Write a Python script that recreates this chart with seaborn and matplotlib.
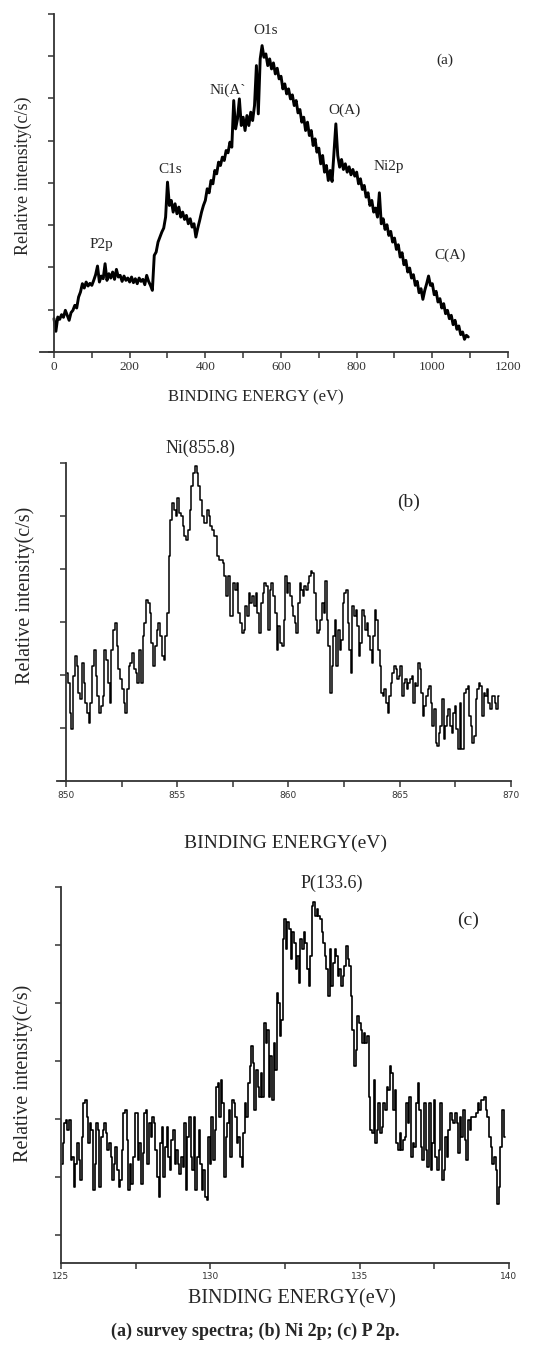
import numpy as np
import seaborn as sns
import matplotlib.pyplot as plt

sns.set_style("ticks")
plt.rcParams['font.family'] = ['Liberation Serif', 'DejaVu Serif']

# ---- (a) survey spectrum, 0..1095 eV every 5 eV (relative counts)
a_energy = np.arange(0, 1100, 5)
a_counts = [
    100, 62, 105, 98, 112, 104, 125, 110, 95, 118,
    125, 140, 132, 165, 180, 205, 192, 210, 198, 206,
    200, 215, 232, 258, 210, 228, 220, 265, 215, 235,
    222, 240, 218, 248, 225, 230, 212, 228, 215, 222,
    210, 225, 208, 220, 205, 222, 212, 218, 202, 230,
    212, 200, 185, 290, 300, 330, 345, 360, 372, 405,
    510, 440, 455, 420, 445, 415, 435, 405, 420, 398,
    410, 385, 400, 375, 385, 345, 372, 395, 420, 440,
    455, 490, 478, 515, 505, 545, 535, 570, 560, 585,
    575, 605, 598, 630, 615, 755, 670, 700, 760, 680,
    705, 665, 710, 680, 720, 695, 740, 860, 715, 880,
    920, 885, 895, 860, 880, 850, 868, 835, 852, 820,
    828, 790, 805, 775, 790, 760, 772, 740, 755, 718,
    728, 690, 705, 665, 690, 650, 665, 620, 640, 600,
    612, 565, 590, 540, 560, 515, 545, 512, 600, 685,
    590, 555, 578, 548, 565, 540, 556, 532, 548, 528,
    540, 505, 520, 488, 500, 465, 478, 440, 455, 420,
    432, 405, 478, 385, 400, 368, 382, 350, 362, 330,
    342, 308, 322, 285, 298, 262, 275, 240, 252, 222,
    232, 200, 212, 178, 190, 158, 185, 205, 228, 200,
    205, 172, 182, 150, 160, 132, 145, 115, 125, 100,
    110, 82, 95, 68, 78, 52, 60, 38, 50, 45,
]
a_peaks = ["P2p", "C1s", "Ni(A`", "O1s", "O(A)", "Ni2p", "C(A)"]
a_peak_x = [125, 307, 459, 559, 769, 886, 1047]
a_peak_y = [322, 547, 787, 965, 727, 557, 289]

# ---- (b) Ni 2p
b_counts_low = [
    325, 295, 205, 155, 315, 375, 345, 265, 245, 355, 295, 235, 205, 175, 235,
    345, 395, 315, 255, 205, 225, 255, 395, 365, 295, 235, 395, 455, 475, 405,
    335, 305, 275, 235, 205, 275, 345, 355, 385, 335, 325, 295, 395, 295, 435,
    475, 545, 535, 505, 415, 345, 405, 455, 475, 435, 375, 365, 435, 505, 675,
    785, 835, 815, 795, 850, 805, 795, 765, 735, 725, 755, 815, 885, 925, 945,
    925, 885, 845, 795, 775, 775, 815, 795, 765, 755, 735, 735, 675, 665, 665,
    655, 615, 555, 615, 495, 495, 595, 575, 595, 505, 475, 445, 455, 525, 495,
    565, 535, 555, 525, 565, 505, 445, 535, 565, 595, 585, 455, 575, 595, 555,
    505, 395, 465, 415,
]
b_counts_high = [
    405, 485, 615, 565, 595, 555, 525, 495, 475, 445, 535, 595, 575, 555, 585,
    575, 595, 615, 630, 625, 565, 485, 445, 455, 485, 535, 505, 600, 485, 405,
    265, 345, 435, 485, 345, 455, 395, 425, 535, 565, 575, 475, 395, 325, 525,
    495, 515, 465, 375, 415, 515, 495, 455, 475, 435, 395, 355, 435, 515, 485,
    395, 345, 265, 255, 275, 235, 205, 255, 295, 325, 345, 335, 305, 315, 345,
    255, 295, 305, 275, 295, 305, 315, 235, 295, 285, 355, 335, 265, 195, 225,
    255, 275, 285, 235, 165, 215, 115, 105, 145, 165, 245, 125, 165, 195, 215,
    165, 145, 205, 225, 155, 95, 235, 95, 95, 265, 275, 285, 195, 165, 115,
    135, 245, 275, 295, 285, 195, 265, 255, 275, 235, 215, 255, 255, 235, 215,
    255,
]
b_energy = np.concatenate([np.linspace(850.05, 859.66, len(b_counts_low)),
                           np.linspace(859.75, 869.45, len(b_counts_high))])
b_counts = b_counts_low + b_counts_high

# ---- (c) P 2p
c_counts_low = [
    212, 272, 332, 342, 312, 342, 222, 232, 142, 212, 272, 222, 162, 292, 392,
    402, 352, 272, 332, 312, 132, 212, 332, 312, 142, 292, 312, 332, 302, 252,
    272, 232, 162, 212, 262, 192, 142, 162, 252, 362, 372, 282, 132, 212, 152,
    232, 362, 362, 222, 272, 152, 242, 362, 372, 212, 332, 292, 352, 332, 252,
    172, 112, 272, 322, 172, 262, 322, 232, 192, 282, 312, 212, 252, 212, 182,
    232, 202, 332, 132, 292, 352, 232, 192, 352, 132, 232, 312, 212, 132, 192,
    112, 102, 292, 212, 352, 222, 312, 442, 452, 352, 462, 392, 172, 292, 332,
    372, 232, 402, 392, 352, 272, 292, 232, 202, 302, 392, 352, 452, 502, 562,
    512, 372, 492, 442, 412, 482, 412, 632, 572, 612, 412, 532, 402, 572, 492,
    722, 692, 592,
]
c_counts_high = [
    642, 882, 942, 852, 932, 912, 822, 902, 872, 792, 832, 752, 882, 852, 902,
    872, 792, 742, 832, 982, 992, 952, 972, 952, 942, 902, 872, 832, 792, 712,
    852, 742, 812, 852, 832, 772, 792, 742, 772, 802, 862, 822, 802, 712, 612,
    502, 552, 652, 632, 612, 572, 602, 572, 592, 412, 312, 302, 462, 272, 312,
    392, 302, 322, 392, 372, 442, 432, 502, 482, 372, 432, 272, 252, 302, 252,
    282, 292, 392, 332, 412, 232, 272, 262, 392, 452, 372, 262, 222, 392, 252,
    202, 392, 192, 272, 402, 232, 192, 252, 392, 162, 192, 292, 232, 312, 362,
    342, 332, 362, 332, 242, 352, 292, 372, 282, 222, 342, 312, 352, 352, 352,
    362, 392, 372, 402, 402, 412, 372, 352, 292, 262, 212, 232, 192, 92, 142,
    262, 372, 292,
]
c_energy = np.concatenate([np.linspace(125.03, 132.36, len(c_counts_low)),
                           np.linspace(132.39, 139.85, len(c_counts_high))])
c_counts = c_counts_low + c_counts_high

caption = "(a) survey spectra; (b) Ni 2p; (c) P 2p."


def style_axis(ax, xmajor, xminor, yticks, tick_fs, tick_font, pad):
    sns.despine(ax=ax)
    for s in ["left", "bottom"]:
        ax.spines[s].set_linewidth(1.3)
        ax.spines[s].set_color("#333333")
    ax.set_xticks(xmajor)
    ax.set_xticks(xminor, minor=True)
    ax.set_yticks(yticks)
    ax.set_yticklabels([])
    ax.tick_params(which="both", direction="out", length=4, width=1.1,
                   colors="#333333")
    ax.tick_params(axis="x", pad=pad)
    for lab in ax.get_xticklabels():
        lab.set_fontsize(tick_fs)
        lab.set_family(tick_font)


fig = plt.figure(figsize=(5.38, 13.70), dpi=100)

# panel (a) - bottom spine starts a little left of the y axis
ax = fig.add_axes([40 / 538, 0.7431, 468 / 538, 0.2467])
sns.lineplot(x=a_energy, y=a_counts, ax=ax, color="black", lw=2.1,
             estimator=None, sort=False)
ax.set_xlim(-37, 1200)
ax.set_ylim(0, 1015)
style_axis(ax, np.arange(0, 1201, 200), np.arange(100, 1200, 200),
           np.linspace(0, 1015, 9), 9.5, ['Liberation Serif'], 2.5)
ax.spines["left"].set_position(("data", 0))
for name, px, py in zip(a_peaks, a_peak_x, a_peak_y):
    ax.text(px, py, name, ha="center", va="center", fontsize=11)
ax.text(1034, 875, "(a)", ha="center", va="center", fontsize=11)
ax.set_xlabel("BINDING ENERGY (eV)", fontsize=12)
ax.xaxis.set_label_coords(0.462, -0.112)
ax.set_ylabel("Relative intensity(c/s)", fontsize=13)
ax.yaxis.set_label_coords(-0.017, 0.52)

# panel (b)
ax = fig.add_axes([57 / 538, 0.4299, 454 / 538, 0.2321])
sns.lineplot(x=b_energy, y=b_counts, ax=ax, color="black", lw=1.1,
             drawstyle="steps-mid", estimator=None, sort=False)
ax.set_xlim(849.6, 870)
ax.set_ylim(0, 955)
style_axis(ax, np.arange(850, 871, 5), np.arange(852.5, 870, 5),
           np.linspace(0, 955, 7), 6.5, ['DejaVu Sans'], 3.5)
ax.spines["left"].set_position(("data", 850))
ax.text(856.05, 1000, "Ni(855.8)", ha="center", va="center", fontsize=13,
        clip_on=False)
ax.text(865.4, 837, "(b)", ha="center", va="center", fontsize=14)
ax.set_xlabel("BINDING ENERGY(eV)", fontsize=14)
ax.xaxis.set_label_coords(0.504, -0.168)
ax.set_ylabel("Relative intensity(c/s)", fontsize=14.5)
ax.yaxis.set_label_coords(-0.048, 0.585)

# panel (c)
ax = fig.add_axes([0.1134, 0.0781, 0.8327, 0.2745])
sns.lineplot(x=c_energy, y=c_counts, ax=ax, color="black", lw=1.2,
             drawstyle="steps-mid", estimator=None, sort=False)
ax.set_xlim(125, 140)
ax.set_ylim(-85, 1038)
style_axis(ax, np.arange(125, 141, 5), np.arange(127.5, 140, 5),
           np.linspace(0, 1038, 7), 6.5, ['DejaVu Sans'], 2.5)
ax.text(134.05, 1050, "P(133.6)", ha="center", va="center", fontsize=13,
        clip_on=False)
ax.text(138.64, 939, "(c)", ha="center", va="center", fontsize=14)
ax.set_xlabel("BINDING ENERGY(eV)", fontsize=14.5)
ax.xaxis.set_label_coords(0.516, -0.07)
ax.set_ylabel("Relative intensity(c/s)", fontsize=14.5)
ax.yaxis.set_label_coords(-0.0625, 0.503)

fig.text(0.474, 1 - 1331 / 1370, caption, ha="center", va="center",
         fontsize=13, fontweight="bold")

fig.savefig("out.png", dpi=100)
